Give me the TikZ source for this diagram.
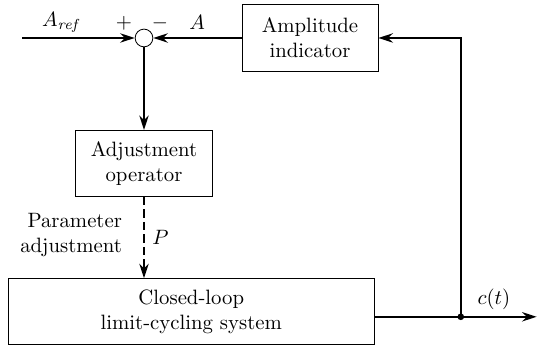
\documentclass[tikz,border=0pt]{standalone}
\usepackage{amsmath}
\usetikzlibrary{positioning,arrows.meta,calc}
\tikzstyle{block}=[rectangle, draw, thin, align=center, minimum width=2.3cm, minimum height=1.12cm]
\tikzstyle{junction}=[circle, draw, thin, inner sep=0pt, minimum size=0.3cm]
\tikzstyle{sig}=[line width=1pt, -{Stealth[length=7pt,width=4.5pt]}]

\begin{document}
\begin{tikzpicture}[node distance=2cm,on grid,auto]
	\useasboundingbox (-2.438,0.643) rectangle (6.721,-5.198);
	\node[junction] (sum) {};
	\node[block, right=2.81cm of sum] (amp) {Amplitude\\indicator};
	\node[block, below=2.125cm of sum, minimum width=2.32cm] (adj) {Adjustment\\operator};
	\node[block, below right=2.51cm and 0.80cm of adj, minimum width=6.2cm] (cls) {Closed-loop\\limit-cycling system};
	\coordinate[left=2.06cm of sum] (in);
	\coordinate (cout) at ($(cls.east)+(0,-0.085)$);
	\coordinate[right=1.456cm of cout] (dot);
	\coordinate[right=2.74cm of cout] (out);
	\node (aref) at ($(sum)+(-1.39,0.27)$) {$A_{\mathit{ref}}$};
	\node (plus) at ($(sum)+(-0.34,0.24)$) {$+$};
	\node (minus) at ($(sum)+(0.27,0.24)$) {$-$};
	\node (aname) at ($(sum)+(0.9,0.27)$) {$A$};
	\node[anchor=east, align=right] (param) at ($(adj.south)+(-0.25,-0.65)$) {Parameter\\adjustment};
	\node (pname) at ($(adj.south)+(0.28,-0.69)$) {$P$};
	\node (cname) at ($(dot)+(0.56,0.30)$) {$c(t)$};
	\draw[sig] (in) -- (sum.west);
	\draw[sig] (amp.west) -- (sum.east);
	\draw[sig] (sum.south) -- (adj.north);
	\draw[sig, dash pattern=on 4pt off 2pt] (adj.south) -- (adj.south |- cls.north);
	\draw[sig] (cout) -- (out);
	\draw[sig] (dot) |- (amp.east);
	\fill (dot) circle (1.6pt);
\end{tikzpicture}
\end{document}
